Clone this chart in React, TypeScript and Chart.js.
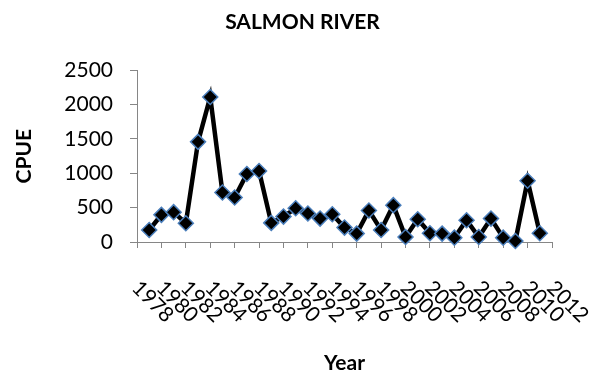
import { useEffect, useRef } from 'react';
import { Chart, registerables } from 'chart.js';

Chart.register(...registerables);

const years = [
  '1978', '1979', '1980', '1981', '1982', '1983', '1984', '1985', '1986', '1987',
  '1988', '1989', '1990', '1991', '1992', '1993', '1994', '1995', '1996', '1997',
  '1998', '1999', '2000', '2001', '2002', '2003', '2004', '2005', '2006', '2007',
  '2008', '2009', '2010', '2011', '2012',
];

const cpue: (number | null)[] = [
  null, 175, 395, 434, 273, 1457, 2110, 721, 648, 989,
  1033, 278, 370, 492, 414, 341, 404, 210, 122, 458,
  175, 536, 73, 331, 127, 122, 63, 317, 73, 341,
  63, 15, 892, 127, null,
];

const yMin = 0;
const yMax = 2500;
const yStep = 500;

const FONT = 'Lato';

export default function App() {
  const ref = useRef<HTMLCanvasElement>(null);

  useEffect(() => {
    const chart = new Chart(ref.current as HTMLCanvasElement, {
      type: 'line',
      data: {
        labels: years,
        datasets: [
          {
            data: cpue,
            borderColor: '#000000',
            borderWidth: 4.5,
            tension: 0,
            pointStyle: 'rectRot',
            pointRadius: 7.5,
            pointBackgroundColor: '#000000',
            pointBorderColor: '#4a7ebb',
            pointBorderWidth: 1.5,
            clip: false,
          } as any,
        ],
      },
      options: {
        responsive: false,
        animation: false,
        devicePixelRatio: 1,
        layout: { padding: 0 },
        plugins: {
          legend: { display: false },
          tooltip: { enabled: false },
          title: {
            display: true,
            text: 'SALMON RIVER',
            color: '#000000',
            font: { family: FONT, size: 21, weight: 'bold', lineHeight: 1.2 },
            padding: { top: 10, bottom: 35 },
          },
        },
        scales: {
          x: {
            type: 'category',
            offset: false,
            grid: {
              drawOnChartArea: false,
              drawTicks: true,
              tickLength: 6,
              color: '#868686',
            },
            border: { display: true, color: '#868686', width: 1 },
            ticks: {
              autoSkip: false,
              minRotation: -45,
              maxRotation: -45,
              labelOffset: 33,
              padding: 62,
              color: '#000000',
              font: { family: FONT, size: 21, lineHeight: 1.2 },
            },
            title: {
              display: true,
              text: 'Year',
              color: '#000000',
              font: { family: FONT, size: 21, weight: 'bold', lineHeight: 1.2 },
              padding: { top: 0, bottom: 4 },
            },
            afterBuildTicks: (s: any) => {
              s.ticks = s.ticks.filter((t: any) => t.value % 2 === 0);
            },
            afterFit: (s: any) => {
              s.height = 138;
              s.paddingLeft = 0;
              s.paddingRight = 53;
            },
          } as any,
          y: {
            min: yMin,
            max: yMax,
            grid: {
              drawOnChartArea: false,
              drawTicks: true,
              tickLength: 7,
              color: '#868686',
            },
            border: { display: true, color: '#868686', width: 1 },
            ticks: {
              stepSize: yStep,
              padding: 17,
              color: '#000000',
              font: { family: FONT, size: 21, lineHeight: 1.2 },
              callback: (v: any) => String(v),
            },
            title: {
              display: true,
              text: 'CPUE',
              color: '#000000',
              font: { family: FONT, size: 21, weight: 'bold', lineHeight: 1.2 },
              padding: { top: 12, bottom: 0 },
            },
            afterFit: (s: any) => {
              s.width = 137;
            },
          } as any,
        },
      },
    });
    return () => chart.destroy();
  }, []);

  return (
    <canvas
      ref={ref}
      width={605}
      height={380}
      style={{ position: 'absolute', left: 0, top: 0, display: 'block' }}
    />
  );
}
